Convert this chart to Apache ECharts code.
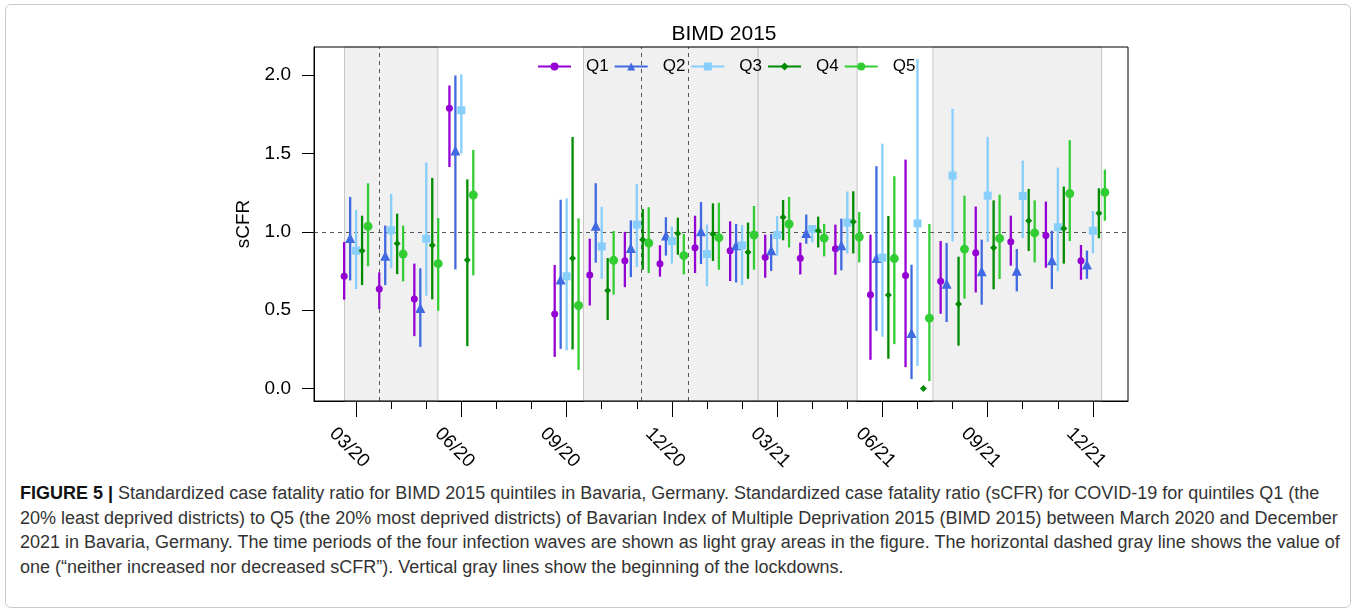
<!DOCTYPE html>
<html>
<head>
<meta charset="utf-8">
<script src="https://cdn.jsdelivr.net/npm/echarts@6/dist/echarts.min.js"></script>
<style>
  html, body { margin: 0; padding: 0; background: #fff; }
  body { width: 1358px; height: 614px; position: relative; overflow: hidden; }
  #frame {
    position: absolute; left: 5px; top: 4px; width: 1346px; height: 604px;
    border: 1px solid #c9c9c9; border-radius: 6px; box-sizing: border-box;
  }
  #chart { position: absolute; left: 0; top: 0; width: 1358px; height: 480px; }
  #caption {
    position: absolute; left: 20px; top: 481px;
    font-family: "Liberation Sans", Arial, sans-serif;
    font-size: 18px; line-height: 24.6px; color: #333; white-space: nowrap;
  }
  #caption b { color: #111; }
</style>
</head>
<body>
<div id="frame"></div>
<div id="chart"></div>
<div id="caption">
  <b>FIGURE 5 |</b> Standardized case fatality ratio for BIMD 2015 quintiles in Bavaria, Germany. Standardized case fatality ratio (sCFR) for COVID-19 for quintiles Q1 (the<br>
  20% least deprived districts) to Q5 (the 20% most deprived districts) of Bavarian Index of Multiple Deprivation 2015 (BIMD 2015) between March 2020 and December<br>
  2021 in Bavaria, Germany. The time periods of the four infection waves are shown as light gray areas in the figure. The horizontal dashed gray line shows the value of<br>
  one (“neither increased nor decreased sCFR”). Vertical gray lines show the beginning of the lockdowns.
</div>
<script>
// months 03/20 .. 12/21 -> index 0..21 (07/20 and 08/20 have no data)
const months = ['03/20', '04/20', '05/20', '06/20', '07/20', '08/20', '09/20', '10/20', '11/20',
  '12/20', '01/21', '02/21', '03/21', '04/21', '05/21', '06/21', '07/21', '08/21', '09/21',
  '10/21', '11/21', '12/21'];
const tickPos = [0, 3, 6, 9, 12, 15, 18, 21];
const tickLabels = ['03/20', '06/20', '09/20', '12/20', '03/21', '06/21', '09/21', '12/21'];
const yTicks = [0, 0.5, 1, 1.5, 2];

// infection waves (gray areas) and lockdown starts, in month index units
const waves = [[-0.33, 2.33], [6.48, 11.46], [11.46, 14.28], [16.44, 21.25]];
const lockdowns = [0.66, 8.14, 9.47];

const q1 = [0.716, 0.635, 0.571, 1.789, null, null, 0.475, 0.724, 0.816, 0.797, 0.899, 0.880, 0.837, 0.831, 0.892, 0.599, 0.721, 0.684, 0.867, 0.937, 0.976, 0.816];
const q1Lo = [0.567, 0.507, 0.334, 1.414, null, null, 0.202, 0.530, 0.647, 0.714, 0.737, 0.686, 0.707, 0.728, 0.726, 0.183, 0.136, 0.477, 0.613, 0.784, 0.771, 0.694];
const q1Hi = [0.935, 0.741, 0.797, 1.934, null, null, 0.788, 0.956, 1.000, 0.914, 1.103, 1.067, 0.982, 0.931, 1.046, 0.982, 1.461, 0.941, 1.161, 1.103, 1.193, 0.916];

const q2 = [0.960, 0.848, 0.513, 1.519, null, null, 0.695, 1.039, 0.897, 0.976, 1.003, 0.914, 0.882, 0.993, 0.914, 0.833, 0.354, 0.669, 0.748, 0.752, 0.818, 0.792];
const q2Lo = [0.690, 0.660, 0.266, 0.760, null, null, 0.253, 0.803, 0.711, 0.848, 0.794, 0.677, 0.750, 0.924, 0.754, 0.368, 0.060, 0.424, 0.535, 0.620, 0.635, 0.700];
const q2Hi = [1.223, 1.040, 0.767, 1.998, null, null, 1.205, 1.310, 1.073, 1.093, 1.190, 1.050, 0.986, 1.110, 1.084, 1.419, 0.790, 0.929, 0.950, 0.890, 1.007, 0.880];

const q3 = [0.880, 1.010, 0.956, 1.776, null, null, 0.716, 0.907, 1.046, 0.941, 0.858, 0.914, 0.980, 1.018, 1.059, 0.835, 1.054, 1.359, 1.231, 1.229, 1.029, 1.007];
const q3Lo = [0.635, 0.767, 0.592, 1.500, null, null, 0.243, 0.700, 0.775, 0.797, 0.652, 0.660, 0.848, 0.933, 0.860, 0.330, 0.143, 0.939, 0.935, 0.960, 0.748, 0.863];
const q3Hi = [1.140, 1.242, 1.442, 2.006, null, null, 1.214, 1.159, 1.306, 1.033, 1.046, 1.044, 1.100, 1.033, 1.257, 1.563, 2.104, 1.785, 1.606, 1.455, 1.410, 1.133];

const q4 = [0.880, 0.926, 0.914, 0.820, null, null, 0.831, 0.626, 0.950, 0.990, 0.986, 0.869, 1.093, 1.007, 1.065, 0.596, 0.000, 0.539, 0.899, 1.071, 1.022, 1.118];
const q4Lo = [0.660, 0.730, 0.569, 0.270, null, null, 0.249, 0.437, 0.758, 0.854, 0.814, 0.700, 0.946, 0.900, 0.862, 0.190, 0.000, 0.273, 0.633, 0.878, 0.797, 0.959];
const q4Hi = [1.103, 1.116, 1.344, 1.335, null, null, 1.606, 0.833, 1.146, 1.090, 1.182, 1.059, 1.203, 1.097, 1.259, 1.101, 0.000, 0.841, 1.201, 1.274, 1.289, 1.278];

const q5 = [1.035, 0.858, 0.797, 1.235, null, null, 0.530, 0.818, 0.929, 0.848, 0.963, 0.980, 1.050, 0.960, 0.967, 0.829, 0.449, 0.890, 0.958, 0.993, 1.244, 1.252];
const q5Lo = [0.780, 0.684, 0.496, 0.722, null, null, 0.119, 0.600, 0.737, 0.728, 0.758, 0.758, 0.900, 0.843, 0.805, 0.283, 0.047, 0.573, 0.699, 0.805, 0.941, 1.071];
const q5Hi = [1.310, 1.040, 1.088, 1.523, null, null, 1.086, 1.005, 1.157, 0.986, 1.186, 1.165, 1.223, 1.050, 1.127, 1.355, 1.050, 1.231, 1.237, 1.201, 1.585, 1.397];

const FONT = '"Liberation Sans", Arial, Helvetica, sans-serif';

const quintiles = [
  { name: 'Q1', color: '#9400d3', symbol: 'circle', size: 7, off: -0.34, v: q1, lo: q1Lo, hi: q1Hi },
  { name: 'Q2', color: '#4169e1', symbol: 'triangle', size: 10, off: -0.17, v: q2, lo: q2Lo, hi: q2Hi },
  { name: 'Q3', color: '#87cefa', symbol: 'rect', size: 8, off: 0, v: q3, lo: q3Lo, hi: q3Hi },
  { name: 'Q4', color: '#008b00', symbol: 'diamond', size: 7, off: 0.17, v: q4, lo: q4Lo, hi: q4Hi },
  { name: 'Q5', color: '#32cd32', symbol: 'circle', size: 9, off: 0.34, v: q5, lo: q5Lo, hi: q5Hi }
];

const chart = echarts.init(document.getElementById('chart'));

const series = [{
  // background: waves + reference lines
  type: 'line',
  name: 'bg',
  data: [],
  silent: true,
  markArea: {
    silent: true,
    z: 1,
    itemStyle: { color: '#f0f0f0', borderColor: '#c6c6c6', borderWidth: 1 },
    data: waves.map(w => [{ xAxis: w[0] }, { xAxis: w[1] }])
  },
  markLine: {
    silent: true,
    z: 2,
    symbol: 'none',
    label: { show: false },
    lineStyle: { color: '#555', width: 1, type: [4, 4] },
    data: lockdowns.map(x => ({ xAxis: x })).concat([{ yAxis: 1 }])
  }
}];

const barData = [];
quintiles.forEach(q => {
  const pts = [];
  const bars = [];
  months.forEach((m, i) => {
    if (q.v[i] == null) return;
    pts.push([i + q.off, q.v[i]]);
    bars.push([i + q.off, q.lo[i], q.hi[i]]);
  });
  barData.push(bars);
  series.push({
    type: 'line',
    name: q.name,
    data: pts,
    z: 4,
    symbol: q.symbol,
    symbolSize: q.size,
    showAllSymbol: true,
    lineStyle: { width: 0 },
    itemStyle: { color: q.color }
  });
});

// error bars, under the markers
quintiles.forEach((q, k) => {
  series.push({
    type: 'custom',
    name: q.name,
    z: 3,
    data: barData[k],
    encode: { x: 0, y: [1, 2] },
    renderItem: function (params, api) {
      const lo = api.coord([api.value(0), api.value(1)]);
      const hi = api.coord([api.value(0), api.value(2)]);
      return {
        type: 'line',
        shape: { x1: lo[0], y1: lo[1], x2: hi[0], y2: hi[1] },
        style: { stroke: q.color, lineWidth: 2.3 }
      };
    }
  });
});

chart.setOption({
  animation: false,
  title: {
    text: 'BIMD 2015',
    left: 719,
    top: 19,
    textAlign: 'center',
    textStyle: { fontFamily: FONT, fontSize: 21, fontWeight: 'normal', color: '#000' }
  },
  legend: {
    data: quintiles.map(q => q.name),
    left: 537,
    top: 58,
    padding: 0,
    itemWidth: 33,
    itemHeight: 10,
    itemGap: 5,
    lineStyle: { width: 2 },
    textStyle: { fontFamily: FONT, fontSize: 17, color: '#000', padding: [0, 0, 0, 10] }
  },
  grid: {
    left: 314, top: 47, width: 814, height: 354,
    show: true, z: 10, borderColor: '#000', borderWidth: 1, backgroundColor: 'transparent'
  },
  xAxis: [{
    type: 'value',
    min: -1.2,
    max: 22,
    position: 'bottom',
    splitLine: { show: false },
    axisLine: { show: true, onZero: false, lineStyle: { color: '#000' } },
    axisTick: { customValues: tickPos, length: 16, lineStyle: { color: '#000' } },
    axisLabel: {
      customValues: tickPos,
      formatter: v => tickLabels[tickPos.indexOf(v)],
      rotate: -45,
      align: 'center',
      verticalAlign: 'top',
      margin: 40,
      fontFamily: FONT,
      fontSize: 19,
      color: '#000'
    }
  }, {
    // monthly minor ticks
    type: 'value',
    min: -1.2,
    max: 22,
    position: 'bottom',
    splitLine: { show: false },
    axisLine: { show: false, onZero: false },
    axisLabel: { show: false },
    axisTick: { customValues: months.map((m, i) => i), length: 8, lineStyle: { color: '#000' } }
  }],
  yAxis: {
    type: 'value',
    min: -0.08,
    max: 2.18,
    name: 'sCFR',
    nameLocation: 'middle',
    nameGap: 60,
    nameTextStyle: { fontFamily: FONT, fontSize: 19, color: '#000' },
    splitLine: { show: false },
    axisLine: { show: true, onZero: false, lineStyle: { color: '#000' } },
    axisTick: { customValues: yTicks, length: 12, lineStyle: { color: '#000' } },
    axisLabel: {
      customValues: yTicks,
      formatter: v => v.toFixed(1),
      margin: 23,
      fontFamily: FONT,
      fontSize: 19,
      color: '#000'
    }
  },
  series: series
});
</script>
</body>
</html>
